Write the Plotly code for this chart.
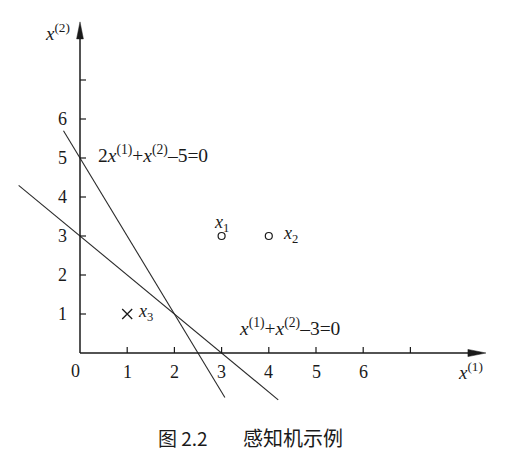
import plotly.graph_objects as go

# ---- data ----
point_x = [3, 4, 1]
point_y = [3, 3, 1]
point_labels = ["<i>x</i><sub>1</sub>", "<i>x</i><sub>2</sub>", "<i>x</i><sub>3</sub>"]
pos_idx = [0, 1]      # open circles
neg_idx = [2]         # cross

line1_x = [-0.35, 3.07]   # 2x(1)+x(2)-5=0
line1_y = [5.70, -1.14]
line2_x = [-1.30, 4.20]   # x(1)+x(2)-3=0
line2_y = [4.30, -1.20]

x_ticks = [1, 2, 3, 4, 5, 6, 7]
x_tick_labels = ["1", "2", "3", "4", "5", "6", ""]
y_ticks = [1, 2, 3, 4, 5, 6, 7]
y_tick_labels = ["1", "2", "3", "4", "5", "6", ""]
x_axis_end = 8.6
y_axis_end = 8.49

# ---- layout constants ----
# the page body adds an 8px margin, so the figure is 16px smaller
OFF = 8
W, H = 527 - 2 * OFF, 459 - 2 * OFF
X0PX, XSC = 80.0 - OFF, 47.2   # pixel of x=0, px per unit
Y0PX, YSC = 353.0 - OFF, 39.0  # pixel of y=0, px per unit
xr = [-X0PX / XSC, (W - X0PX) / XSC]
yr = [(Y0PX - H) / YSC, Y0PX / YSC]

INK = "#1a1a1a"
SERIF = "Liberation Serif"

fig = go.Figure()

# equation lines
for lx, ly in [(line1_x, line1_y), (line2_x, line2_y)]:
    fig.add_trace(go.Scatter(x=lx, y=ly, mode="lines",
                             line=dict(color="#2a2a2a", width=1.1),
                             hoverinfo="skip", showlegend=False))

# axes lines
fig.add_trace(go.Scatter(x=[0, x_axis_end - 0.2], y=[0, 0], mode="lines",
                         line=dict(color=INK, width=1.5), showlegend=False))
fig.add_trace(go.Scatter(x=[0, 0], y=[0, y_axis_end - 0.2], mode="lines",
                         line=dict(color=INK, width=1.5), showlegend=False))

# arrowheads
ah_len_x, ah_w_x = 18 / XSC, 3.6 / YSC
fig.add_trace(go.Scatter(
    x=[x_axis_end, x_axis_end - ah_len_x, x_axis_end - ah_len_x, x_axis_end],
    y=[0, ah_w_x, -ah_w_x, 0], mode="lines", fill="toself",
    fillcolor=INK, line=dict(color=INK, width=0.5), showlegend=False))
ah_len_y, ah_w_y = 17 / YSC, 3.4 / XSC
fig.add_trace(go.Scatter(
    x=[0, ah_w_y, -ah_w_y, 0],
    y=[y_axis_end, y_axis_end - ah_len_y, y_axis_end - ah_len_y, y_axis_end],
    mode="lines", fill="toself",
    fillcolor=INK, line=dict(color=INK, width=0.5), showlegend=False))

# ticks
tl_x = 6 / YSC
tx, ty = [], []
for t in x_ticks:
    tx += [t, t, None]
    ty += [0, tl_x, None]
fig.add_trace(go.Scatter(x=tx, y=ty, mode="lines",
                         line=dict(color=INK, width=1.2), showlegend=False))
tl_y = 6 / XSC
tx, ty = [], []
for t in y_ticks:
    tx += [0, tl_y, None]
    ty += [t, t, None]
fig.add_trace(go.Scatter(x=tx, y=ty, mode="lines",
                         line=dict(color=INK, width=1.2), showlegend=False))

# points
fig.add_trace(go.Scatter(x=[point_x[i] for i in pos_idx], y=[point_y[i] for i in pos_idx],
                         mode="markers",
                         marker=dict(symbol="circle-open", size=7, color=INK,
                                     line=dict(width=1.2, color=INK)),
                         showlegend=False))
fig.add_trace(go.Scatter(x=[point_x[i] for i in neg_idx], y=[point_y[i] for i in neg_idx],
                         mode="markers",
                         marker=dict(symbol="x-thin", size=10, color=INK,
                                     line=dict(width=1.3, color=INK)),
                         showlegend=False))

ann = []
def add_text(x, y, txt, size=18, xanchor="center", yanchor="middle", xref="x", yref="y", family=SERIF):
    ann.append(dict(x=x, y=y, xref=xref, yref=yref, text=txt, showarrow=False,
                    xanchor=xanchor, yanchor=yanchor,
                    font=dict(family=family, size=size, color=INK)))

# tick labels
for t, lab in zip(x_ticks, x_tick_labels):
    if lab:
        add_text(t, -0.48, lab)
for t, lab in zip(y_ticks, y_tick_labels):
    if lab:
        add_text(-0.38, t, lab)
add_text(-0.09, -0.46, "0")

# point labels
label_pos = [(2.99, 3.33), (4.47, 3.03), (1.38, 1.05)]
for (lx, ly), t in zip(label_pos, point_labels):
    add_text(lx, ly, t)

# equation labels
add_text(0.33, 5.10, "2<i>x</i><sup>(1)</sup>+<i>x</i><sup>(2)</sup>–5=0", size=19.5, xanchor="left")
add_text(3.32, 0.67, "<i>x</i><sup>(1)</sup>+<i>x</i><sup>(2)</sup>–3=0", size=19.5, xanchor="left")

# axis labels
add_text(-0.18, 8.22, "<i>x</i><sup>(2)</sup>", size=19, xanchor="right")
add_text(8.27, -0.45, "<i>x</i><sup>(1)</sup>", size=19)

# caption
cap_y = 1 - (437 - OFF) / H
add_text((156 - OFF) / W, cap_y, "图 2.2", size=19, xanchor="left", xref="paper", yref="paper",
         family="Noto Sans CJK SC")
add_text((241 - OFF) / W, cap_y, "感知机示例", size=20, xanchor="left", xref="paper", yref="paper",
         family="Noto Sans CJK SC")

fig.update_layout(
    width=W, height=H,
    margin=dict(l=0, r=0, t=0, b=0),
    paper_bgcolor="white", plot_bgcolor="white",
    xaxis=dict(range=xr, visible=False, fixedrange=True),
    yaxis=dict(range=yr, visible=False, fixedrange=True),
    annotations=ann,
    showlegend=False,
)

fig.write_html("out.html")
